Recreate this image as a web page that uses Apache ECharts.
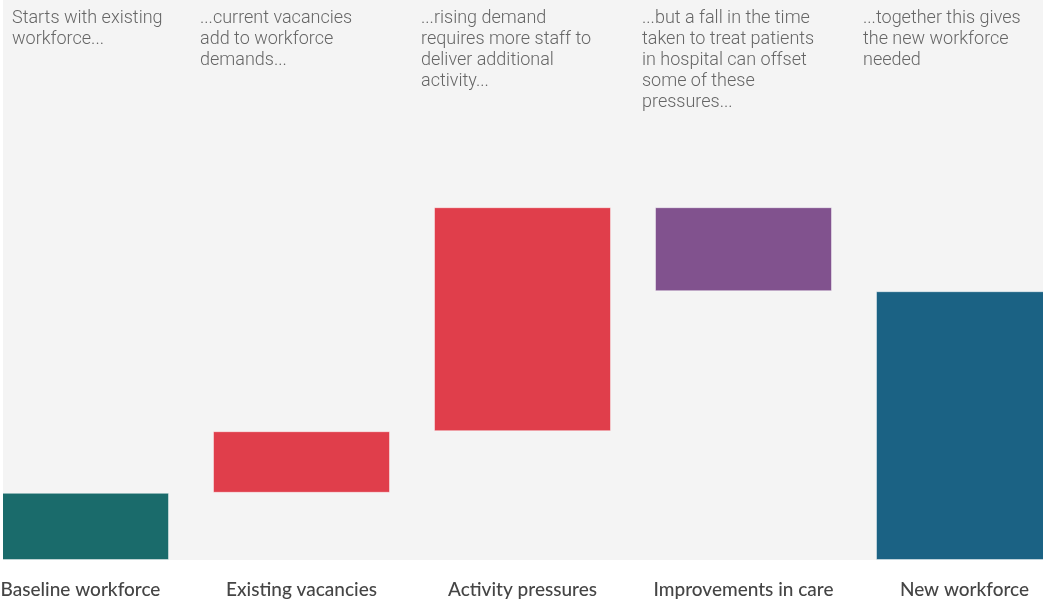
<!DOCTYPE html>
<html>
<head>
<meta charset="utf-8">
<script src="https://cdn.jsdelivr.net/npm/echarts@6/dist/echarts.min.js"></script>
<style>
  html, body { margin: 0; padding: 0; background: #fff; overflow: hidden; }
  /* chart is wider than the window so the outer bars are cut at the edges */
  #main { position: absolute; left: -30px; top: 0; width: 1105px; height: 602px; }
</style>
</head>
<body>
<div id="main"></div>
<script>
// waterfall steps (arbitrary units, baseline = 12)
const categories = ['Baseline workforce', 'Existing vacancies', 'Activity pressures', 'Improvements in care', 'New workforce']
const deltas = [12, 11, 40, -15, 48]
const isTotal = [true, false, false, false, true]
const barColors = ['#1a6b6b', '#e03e4b', '#e03e4b', '#81528e', '#1b6284']
const notes = [
  'Starts with existing\nworkforce...',
  '...current vacancies\nadd to workforce\ndemands...',
  '...rising demand\nrequires more staff to\ndeliver additional\nactivity...',
  '...but a fall in the time\ntaken to treat patients\nin hospital can offset\nsome of these\npressures...',
  '...together this gives\nthe new workforce\nneeded'
]
const yMax = 100

// build invisible base + visible step for each bar
const base = []
const step = []
let running = 0
for (let i = 0; i < deltas.length; i++) {
  if (isTotal[i]) {
    base.push(0)
    step.push(deltas[i])
    running = deltas[i]
  } else if (deltas[i] >= 0) {
    base.push(running)
    step.push(deltas[i])
    running += deltas[i]
  } else {
    running += deltas[i]
    base.push(running)
    step.push(-deltas[i])
  }
}

const chart = echarts.init(document.getElementById('main'))
const barWidth = 177
const shift = 30 // page x = chart x - shift

const option = {
  animation: false,
  grid: { left: 0, right: 0, top: 0, height: 560, containLabel: false },
  graphic: [
    { type: 'rect', z: -10, shape: { x: shift + 3, y: 0, width: 1040, height: 560 }, style: { fill: '#f4f4f4' } }
  ],
  xAxis: {
    type: 'category',
    data: categories,
    axisLine: { show: false },
    axisTick: { show: false },
    axisLabel: {
      interval: 0,
      margin: 20,
      color: '#454545',
      fontSize: 19,
      fontWeight: 500,
      fontFamily: 'Lato'
    }
  },
  yAxis: {
    type: 'value',
    min: 0,
    max: yMax,
    show: false,
    splitLine: { show: false }
  },
  series: [
    {
      type: 'bar',
      stack: 'w',
      barWidth: barWidth,
      itemStyle: { color: 'transparent' },
      data: base,
      silent: true
    },
    {
      type: 'bar',
      stack: 'w',
      barWidth: barWidth,
      data: step.map((v, i) => ({
        value: v,
        itemStyle: { color: barColors[i], borderColor: 'rgba(255,255,255,0.45)', borderWidth: 1 }
      }))
    }
  ]
}
chart.setOption(option)

// annotation texts above each column + white strip clipping the left edge
const extra = []
for (let i = 0; i < categories.length; i++) {
  const cx = chart.convertToPixel({ xAxisIndex: 0 }, categories[i])
  const x = Math.max(shift + 12, cx - barWidth / 2 - 13)
  extra.push({
    type: 'text',
    x: x,
    y: 8,
    z: 10,
    style: {
      text: notes[i],
      fill: '#666666',
      font: '300 18px Roboto',
      lineHeight: 21
    }
  })
}
extra.push({ type: 'rect', z: 20, shape: { x: 0, y: 0, width: shift + 3, height: 561 }, style: { fill: '#fff' } })
option.graphic = option.graphic.concat(extra)
chart.setOption({ graphic: option.graphic })
</script>
</body>
</html>
